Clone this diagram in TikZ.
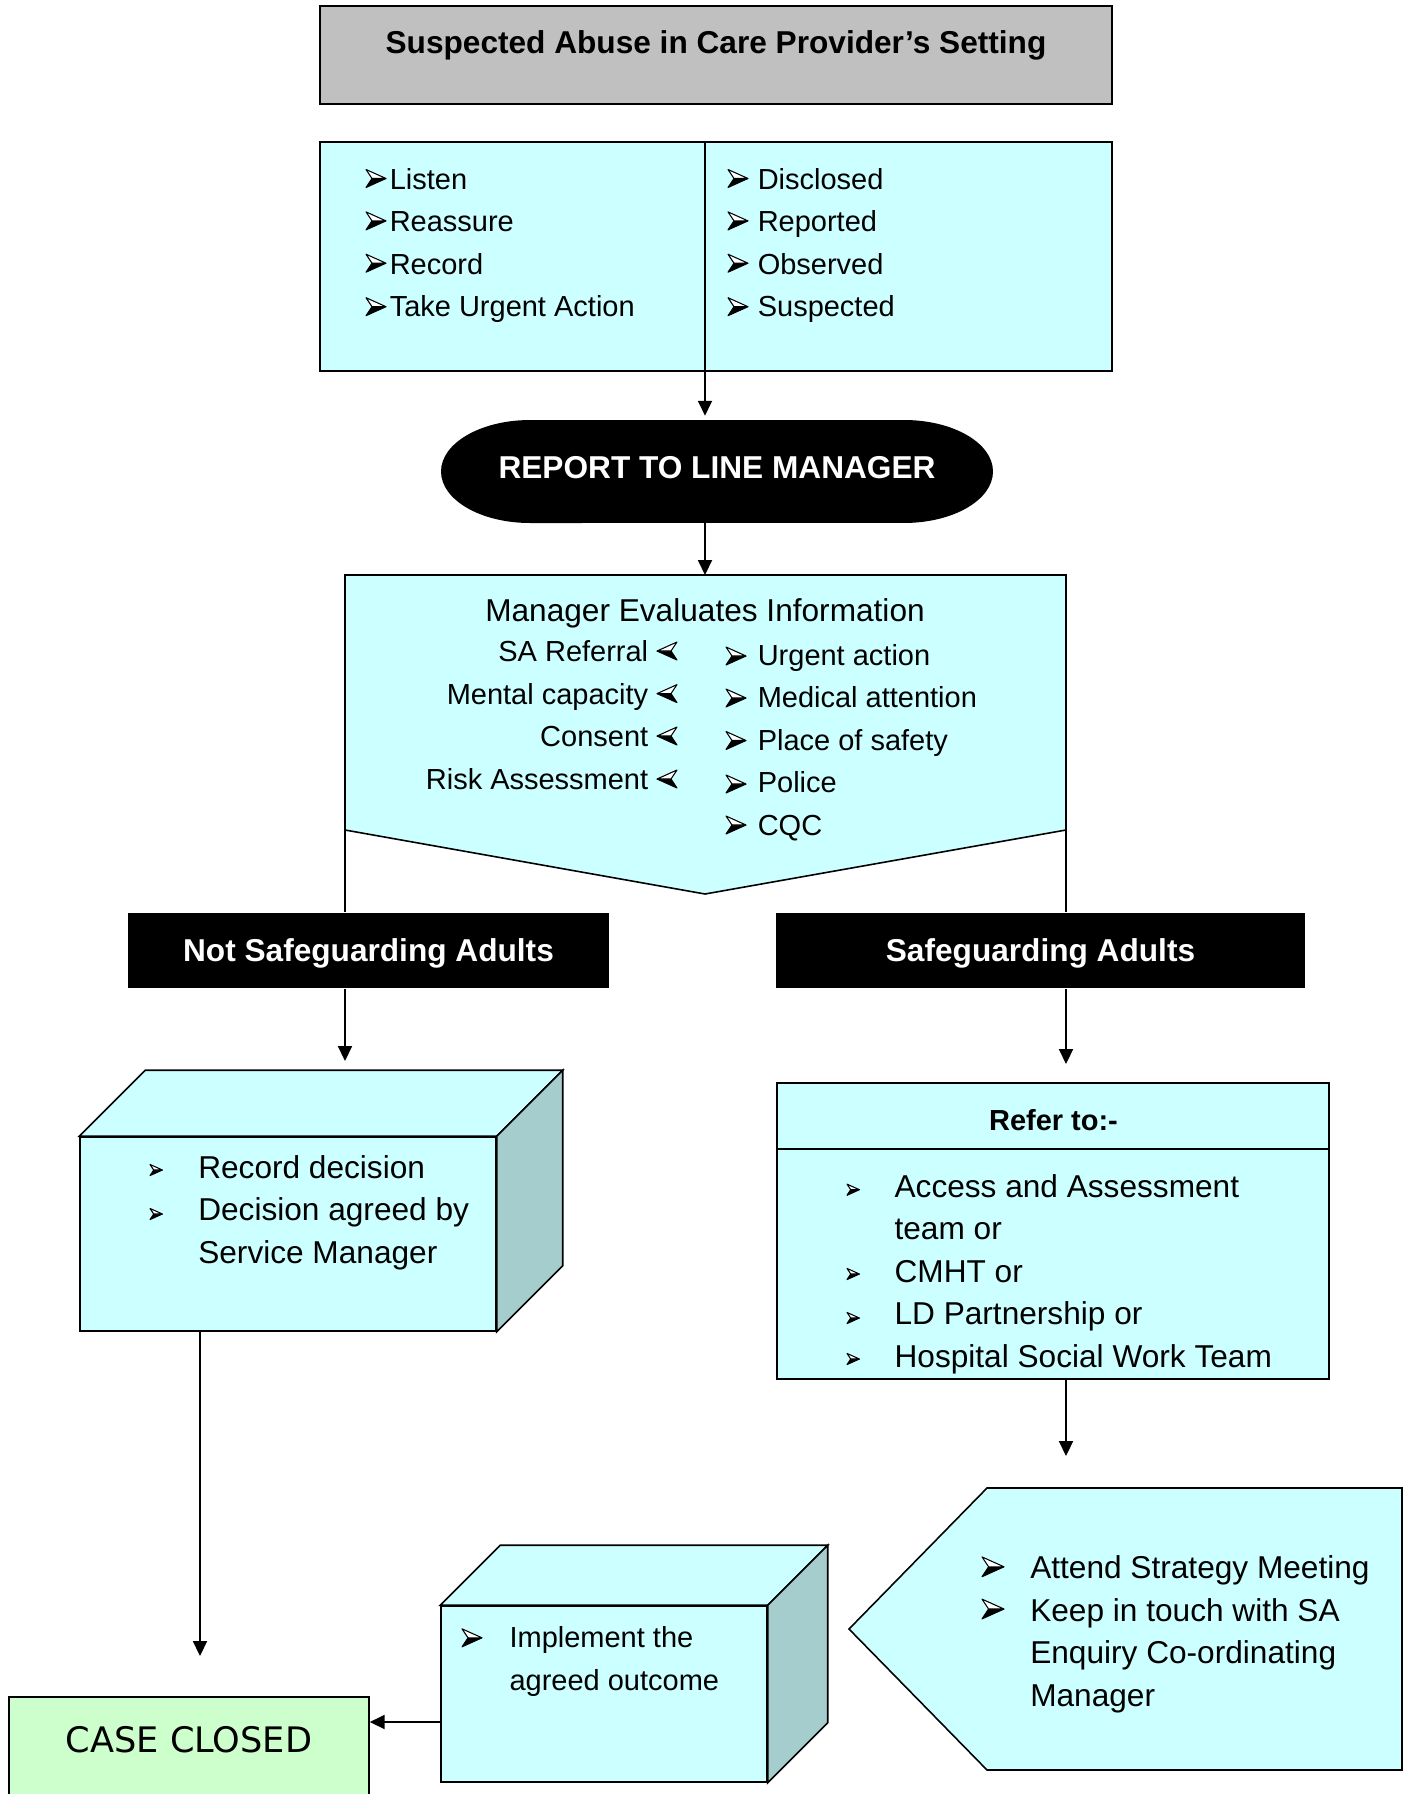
\documentclass[tikz,border=0pt]{standalone}
\usepackage{fontspec}
\setmainfont{Liberation Sans}
\newfontfamily\dvfont{DejaVu Sans}
\usepackage{xcolor}
\usetikzlibrary{arrows.meta,positioning,calc}

\definecolor{boxcyan}{HTML}{CCFFFF}
\definecolor{sidecyan}{HTML}{A6CDCD}
\definecolor{titlegray}{HTML}{C0C0C0}
\definecolor{closegreen}{HTML}{CCFFCC}

\newcommand{\fs}[2]{\fontsize{#1}{#2}\selectfont}

\tikzset{
  panel/.style={draw, fill=boxcyan, inner sep=0pt},
  banner/.style={fill=black, text=white, font=\fs{18}{22}\bfseries, text depth=0pt, inner sep=0pt},
  item/.style={font=\fs{16.5}{24.2}, align=left, inner sep=0pt},
  itembig/.style={font=\fs{18}{24.2}, align=left, inner sep=0pt},
  arrow/.style={-{Triangle[length=8.5pt,width=8pt]}},
  % bullet arrowhead, origin at its back middle
  pics/wingtip/.style={code={
    \fill (0,9) -- (20,0) -- (6,0) -- cycle;
    \draw[line width=0.6pt, fill=white, line join=round] (0,-9) -- (20,0) -- (6,0) -- cycle;
    \draw[line width=0.6pt, line join=round] (6,0) -- (0,9) -- (20,0);
  }}
}

\begin{document}
\begin{tikzpicture}[x=0.02cm, y=-0.02cm, line width=0.9pt]
    \useasboundingbox (0,0) rectangle (1410,1794);

    % Heading
    \node[draw, fill=titlegray, minimum width=15.84cm, minimum height=1.96cm] (title) at (716,55) {};
    \node[font=\fs{18}{22}\bfseries] (titletxt) at (716,45.5) {Suspected Abuse in Care Provider’s Setting};

    % First response
    \node[panel, minimum width=15.84cm, minimum height=4.58cm] (listbox) at (716,256.5) {};
    \coordinate (split) at (705,142);
    \node[item, anchor=west] (dolist) at (389,245.7) {Listen\\Reassure\\Record\\Take Urgent Action};
    \node[item, anchor=west] (howlist) at (757,245.7) {Disclosed\\Reported\\Observed\\Suspected};
    \foreach \y in {178.5,220.9,263.2,306.7} {
        \pic at (366,\y) {wingtip};
        \pic at (728,\y) {wingtip};
    }

    % Report
    \fill (530,420) -- (904,420) arc[start angle=90, end angle=-90, x radius=1.78cm, y radius=1.03cm]
        -- (530,523) arc[start angle=270, end angle=90, x radius=1.78cm, y radius=1.03cm] -- cycle;
    \node[text=white, font=\fs{18}{22}\bfseries, minimum width=11.04cm, minimum height=2.06cm] (report) at (717,468) {REPORT TO LINE MANAGER};
    \draw[arrow] (split) -- (split |- report.north);

    % Manager evaluates
    \coordinate (mgrtop) at (705,575);
    \coordinate (mgrbl) at (345,830);
    \coordinate (mgrbr) at (1066,830);
    \draw[fill=boxcyan] (345,575) -- (1066,575) -- (mgrbr) -- (705,894) -- (mgrbl) -- cycle;
    \draw[arrow] (report.south -| mgrtop) -- (mgrtop);
    \node[font=\fs{18}{22}] (mgrtitle) at (705,613.5) {Manager Evaluates Information};
    \node[item, align=right, anchor=east] (checks) at (649,715) {SA Referral\\Mental capacity\\Consent\\Risk Assessment};
    \node[item, anchor=west] (actions) at (757,742.7) {Urgent action\\Medical attention\\Place of safety\\Police\\CQC};
    \foreach \y in {651,693.6,736,779}
        \pic[xscale=-1] at (677,\y) {wingtip};
    \foreach \y in {656,698,740.5,784,825}
        \pic at (726,\y) {wingtip};

    % Decision
    \node[banner, minimum width=9.62cm, minimum height=1.5cm] (notsa) at (368.5,950.5) {Not Safeguarding Adults};
    \node[banner, minimum width=10.58cm, minimum height=1.5cm] (sa) at (1040.5,950.5) {Safeguarding Adults};
    \draw (mgrbl) -- (mgrbl |- notsa.north);
    \draw (mgrbr) -- (mgrbr |- sa.north);

    % Not safeguarding
    \node[panel, minimum width=8.32cm, minimum height=3.88cm] (record) at (288,1234) {};
    \draw[fill=boxcyan] (record.north west) -- ++(1.32cm,1.32cm) -- ([shift={(1.32cm,1.32cm)}]record.north east) -- (record.north east) -- cycle;
    \draw[fill=sidecyan] (record.north east) -- ++(1.32cm,1.32cm) -- ([shift={(1.32cm,1.32cm)}]record.south east) -- (record.south east) -- cycle;
    \node[itembig, anchor=west] (recordtxt) at (197.5,1212.7) {Record decision\\Decision agreed by\\Service Manager};
    \foreach \y in {1170,1214}
        \pic[scale=0.62] at (150,\y) {wingtip};
    \coordinate (recordin) at (345,1061);
    \draw[arrow] (notsa.south -| recordin) -- (recordin);

    % Safeguarding
    \node[panel, minimum width=11.04cm, minimum height=5.92cm] (refer) at (1053,1231) {};
    \coordinate (refdiv) at (1053,1149);
    \draw (refdiv -| refer.west) -- (refdiv -| refer.east);
    \node[font=\fs{16.5}{20}\bfseries] (refertxt) at (1053.5,1120.5) {Refer to:-};
    \node[itembig, anchor=west] (teams) at (893.8,1273.9) {Access and Assessment\\team or\\CMHT or\\LD Partnership or\\Hospital Social Work Team};
    \foreach \y in {1189.7,1274,1318,1359}
        \pic[scale=0.62] at (847,\y) {wingtip};
    \coordinate (referin) at (1066,1064);
    \draw[arrow] (sa.south -| referin) -- (referin);

    % Strategy meeting
    \draw[fill=boxcyan] (849,1629) -- (987,1488) -- (1402,1488) -- (1402,1770) -- (987,1770) -- cycle;
    \coordinate (stratin) at (1066,1456);
    \draw[arrow] (refer.south -| stratin) -- (stratin);
    \node[itembig, anchor=west] (strategy) at (1029.5,1634.3) {Attend Strategy Meeting\\Keep in touch with SA\\Enquiry Co-ordinating\\Manager};
    \foreach \y in {1566.8,1609}
        \pic[scale=1.1] at (982,\y) {wingtip};

    % Implement outcome
    \node[panel, minimum width=6.52cm, minimum height=3.52cm] (impl) at (604,1694) {};
    \draw[fill=boxcyan] (impl.north west) -- ++(1.2cm,1.2cm) -- ([shift={(1.2cm,1.2cm)}]impl.north east) -- (impl.north east) -- cycle;
    \draw[fill=sidecyan] (impl.north east) -- ++(1.2cm,1.2cm) -- ([shift={(1.2cm,1.2cm)}]impl.south east) -- (impl.south east) -- cycle;
    \node[item, anchor=west] (impltxt) at (508.8,1661.3) {Implement the\\agreed outcome};
    \pic at (462,1637.8) {wingtip};

    % Case closed
    \node[draw, fill=closegreen, minimum width=7.2cm, minimum height=2.26cm] (closed) at (189,1753.5) {};
    \node[font=\dvfont\fs{20}{24}] (closedtxt) at (189,1739.6) {CASE CLOSED};
    \coordinate (closein) at (200,1656);
    \draw[arrow] (record.south -| closein) -- (closein);
    \coordinate (implout) at (441,1722);
    \draw[arrow] (implout) -- (implout -| closed.east);
\end{tikzpicture}
\end{document}
